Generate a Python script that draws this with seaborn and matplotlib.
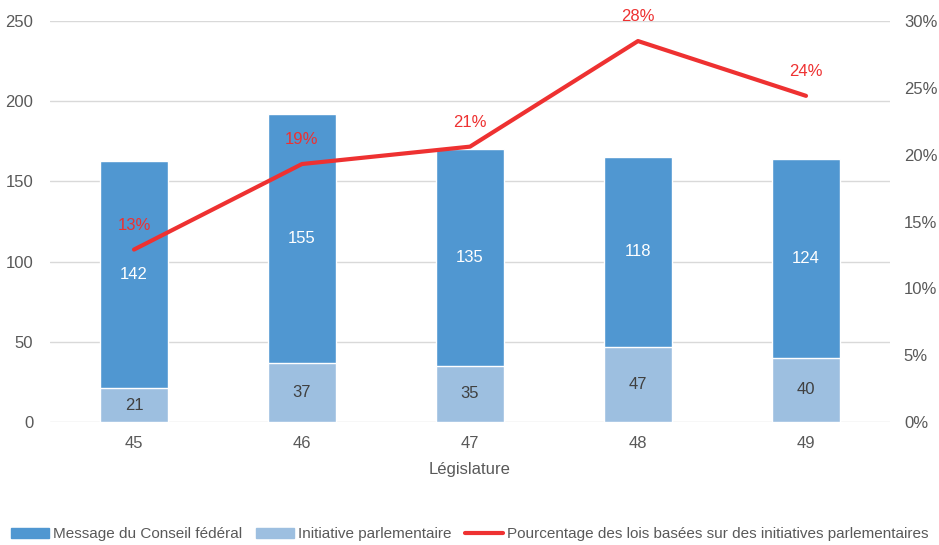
import matplotlib
matplotlib.use("Agg")
import matplotlib.pyplot as plt
import matplotlib.patches as mpatches
from matplotlib.lines import Line2D
from matplotlib.ticker import PercentFormatter
import seaborn as sns
import pandas as pd

legislatures = ["45", "46", "47", "48", "49"]
message_cf = [142, 155, 135, 118, 124]
initiative_parl = [21, 37, 35, 47, 40]
pct_initiatives = [0.129, 0.193, 0.206, 0.285, 0.244]
pct_labels = ["13%", "19%", "21%", "28%", "24%"]

dark_blue = "#5097d1"
light_blue = "#9dbfe0"
red = "#ee3131"
grey = "#595959"

sns.set_theme(style="white")
plt.rcParams["font.family"] = ["Liberation Sans Narrow", "Liberation Sans", "DejaVu Sans"]

df = pd.DataFrame({
    "leg": legislatures,
    "msg": message_cf,
    "init": initiative_parl,
    "pct": pct_initiatives,
})
df["total"] = df["msg"] + df["init"]

fig = plt.figure(figsize=(9.39, 5.45), dpi=100)
ax = fig.add_axes([50 / 939, 123 / 545, 840 / 939, 401 / 545])

# stacked bars: total in dark blue, initiatives drawn over it in light blue
sns.barplot(data=df, x="leg", y="total", color=dark_blue, width=0.4,
            saturation=1, ax=ax, zorder=2)
sns.barplot(data=df, x="leg", y="init", color=light_blue, width=0.4,
            saturation=1, ax=ax, zorder=3)

for i, row in df.iterrows():
    ax.text(i, row["init"] + row["msg"] / 2, str(row["msg"]), ha="center",
            va="center", color="white", fontsize=12, zorder=4)
    ax.text(i, row["init"] / 2, str(row["init"]), ha="center", va="center",
            color="#404040", fontsize=12, zorder=4)

ax.set_ylim(0, 250)
ax.set_xlim(-0.5, 4.5)
ax.set_yticks(range(0, 251, 50))
ax.yaxis.grid(True, color="#d9d9d9", linewidth=1, zorder=0)
ax.set_axisbelow(True)
for s in ax.spines.values():
    s.set_visible(False)
ax.tick_params(axis="both", length=0, labelsize=12, labelcolor=grey)
ax.tick_params(axis="y", pad=12)
ax.tick_params(axis="x", pad=10)
ax.set_xlabel("Législature", fontsize=12, color=grey, labelpad=8)
ax.set_ylabel("")

ax2 = ax.twinx()
sns.lineplot(x=range(len(legislatures)), y=df["pct"], color=red, linewidth=3,
             ax=ax2, zorder=5)
for i, (p, lab) in enumerate(zip(pct_initiatives, pct_labels)):
    ax2.annotate(lab, (i, p), xytext=(0, 12), textcoords="offset points",
                 ha="center", va="bottom", color=red, fontsize=12)
ax2.set_ylim(0, 0.30)
ax2.set_yticks([0, 0.05, 0.10, 0.15, 0.20, 0.25, 0.30])
ax2.yaxis.set_major_formatter(PercentFormatter(1.0, decimals=0))
ax2.tick_params(axis="y", length=0, labelsize=12, labelcolor=grey, pad=10)
ax2.set_ylabel("")
for s in ax2.spines.values():
    s.set_visible(False)

handles = [
    mpatches.Patch(color=dark_blue, label="Message du Conseil fédéral"),
    mpatches.Patch(color=light_blue, label="Initiative parlementaire"),
    Line2D([0], [0], color=red, linewidth=3,
           label="Pourcentage des lois basées sur des initiatives parlementaires"),
]
leg = fig.legend(handles=handles, loc="lower center", bbox_to_anchor=(0.5, -0.018),
                 ncol=3, frameon=False, fontsize=11, handlelength=2.5,
                 handleheight=0.6, handletextpad=0.25, columnspacing=0.9)
for t in leg.get_texts():
    t.set_color(grey)

fig.savefig("out.png", dpi=100)
